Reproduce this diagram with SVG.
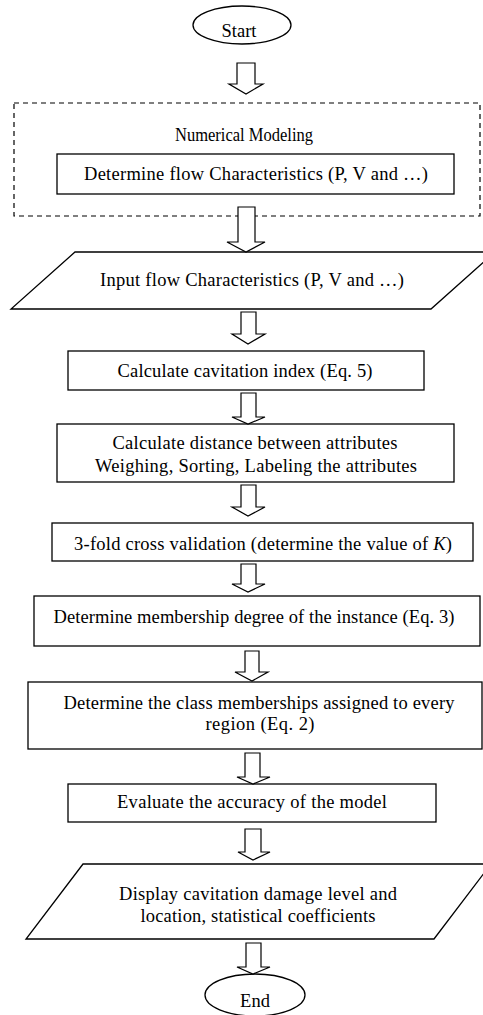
<svg xmlns="http://www.w3.org/2000/svg" width="483" height="1015" viewBox="0 0 483 1015">
<style>
.s{fill:#fff;stroke:#000;stroke-width:1.3}
.d{fill:none;stroke:#000;stroke-width:1.2;stroke-dasharray:5 4}
.a{fill:#fff;stroke:#000;stroke-width:1.2}
text{font-family:"Liberation Serif","Times New Roman",serif;font-size:18.5px;fill:#000;text-anchor:middle}
</style>
<rect width="483" height="1015" fill="#fff"/>
<g id="start"><ellipse class="s" cx="242" cy="25" rx="49" ry="19"/><text x="239" y="37">Start</text></g>
<g id="numerical-modeling"><rect class="d" x="14" y="103" width="466" height="113"/><text x="244" y="141" style="font-size:19px" textLength="138" lengthAdjust="spacingAndGlyphs">Numerical Modeling</text></g>
<g id="determine-flow"><rect class="s" x="57" y="154" width="397" height="40"/><text x="256" y="180" textLength="344">Determine flow Characteristics (P, V and …)</text></g>
<g id="input-flow"><polygon class="s" points="75,252 495,252 431,309 11,309"/><text x="252" y="286" textLength="304">Input flow Characteristics (P, V and …)</text></g>
<g id="cavitation-index"><rect class="s" x="68" y="351" width="356" height="39"/><text x="245" y="377" textLength="255">Calculate cavitation index (Eq. 5)</text></g>
<g id="distance"><rect class="s" x="57" y="424" width="397" height="58"/><text x="255" y="449" textLength="285">Calculate distance between attributes</text><text x="256" y="472" textLength="322">Weighing, Sorting, Labeling the attributes</text></g>
<g id="cross-validation"><rect class="s" x="52" y="523" width="421" height="38"/><text x="263" y="550" textLength="378">3-fold cross validation (determine the value of <tspan font-style="italic">K</tspan>)</text></g>
<g id="membership-degree"><rect class="s" x="34" y="596" width="446" height="50"/><text x="254" y="623" textLength="401">Determine membership degree of the instance (Eq. 3)</text></g>
<g id="class-memberships"><rect class="s" x="28" y="682" width="454" height="67"/><text x="259" y="709" textLength="391">Determine the class memberships assigned to every</text><text x="260" y="730" textLength="109">region (Eq. 2)</text></g>
<g id="evaluate"><rect class="s" x="68" y="784" width="368" height="38"/><text x="252" y="808" textLength="270">Evaluate the accuracy of the model</text></g>
<g id="display"><polygon class="s" points="83,864 491,864 434,939 26,939"/><text x="258" y="900" textLength="278">Display cavitation damage level and</text><text x="258" y="922" textLength="235">location, statistical coefficients</text></g>
<g id="end"><ellipse class="s" cx="255" cy="995" rx="50" ry="21"/><text x="255" y="1007">End</text></g>
<g id="connectors">
<path class="a" d="M237,63 H255 V84 H263 L246,94 L229,84 H237 Z"/>
<path class="a" d="M238,207 H255 V242 H265 L246,252 L227,242 H238 Z"/>
<path class="a" d="M241,312 H256 V334 H265 L248,344 L232,334 H241 Z"/>
<path class="a" d="M241,393 H256 V417 H265 L248,424 L232,417 H241 Z"/>
<path class="a" d="M241,485 H256 V507 H265 L248,516 L232,507 H241 Z"/>
<path class="a" d="M241,564 H256 V584 H265 L248,592 L232,584 H241 Z"/>
<path class="a" d="M245,651 H259 V672 H268 L252,681 L235,672 H245 Z"/>
<path class="a" d="M245,753 H260 V777 H270 L253,784 L237,777 H245 Z"/>
<path class="a" d="M245,829 H261 V852 H270 L253,860 L238,852 H245 Z"/>
<path class="a" d="M246,943 H261 V967 H270 L253,974 L237,967 H246 Z"/>
</g>
</svg>
